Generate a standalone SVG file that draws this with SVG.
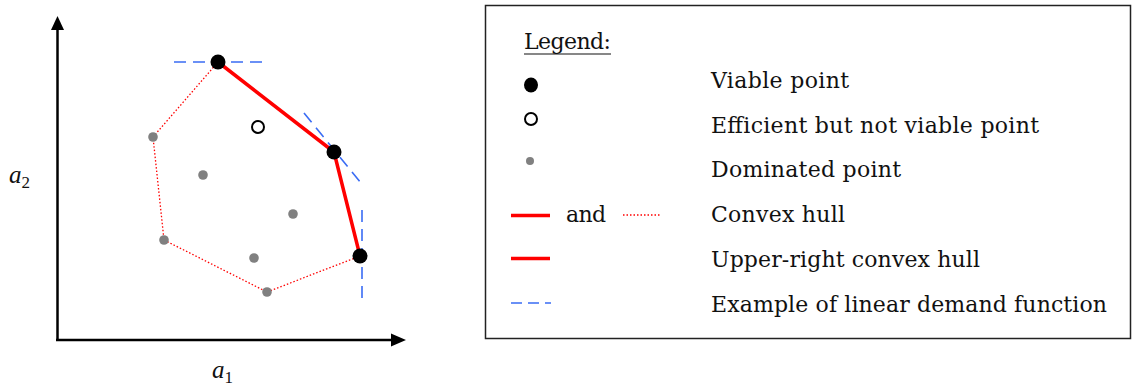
<svg xmlns="http://www.w3.org/2000/svg" width="1135" height="391" viewBox="0 0 1135 391">
<style>
.t{font-family:"DejaVu Serif","Liberation Serif",serif;font-size:22px;fill:#111}
.it{font-family:"Liberation Serif","DejaVu Serif",serif;font-style:italic;font-size:25px;fill:#111}
.sub{font-family:"Liberation Serif","DejaVu Serif",serif;font-style:normal;font-size:17px}
.axis{stroke:#000;stroke-width:2.5;fill:none}
.hull{stroke:#ff0000;stroke-width:3.5;fill:none;stroke-linejoin:round}
.dot{stroke:#ff0000;stroke-width:1.3;fill:none;stroke-dasharray:1.5 2}
.dem{stroke:#3a6cf4;stroke-width:1.6;fill:none;stroke-dasharray:12 7}
.viable{fill:#000}
.eff{fill:#fff;stroke:#000;stroke-width:2}
.dom{fill:#808080}
</style>
<g id="axes">
<path class="axis" d="M57.5,341 L57.5,26"/>
<path d="M51,30 L57.5,16 L64,30 z" fill="#000"/>
<path class="axis" d="M56,340 L395,340"/>
<path d="M391,333.5 L406,340 L391,346.5 z" fill="#000"/>
<text class="it" x="9" y="183">a<tspan class="sub" dy="5">2</tspan></text>
<text class="it" x="212" y="378">a<tspan class="sub" dy="5">1</tspan></text>
</g>
<g id="connectors">
<path class="dot" d="M218,62 L153,137 L164,240 L267,292 L360,256"/>
<path class="hull" d="M218,62 L334,152 L360,256"/>
<path class="dem" d="M174,62 L266,62"/>
<path class="dem" d="M304,113 L361,183"/>
<path class="dem" d="M362,210 L362,300"/>
</g>
<g id="points">
<circle id="p-v1" class="viable" cx="218" cy="62" r="7.5"/>
<circle id="p-v2" class="viable" cx="334" cy="152" r="7.5"/>
<circle id="p-v3" class="viable" cx="360" cy="256" r="7.5"/>
<circle id="p-e1" class="eff" cx="258" cy="127" r="6"/>
<circle id="p-d1" class="dom" cx="153" cy="137" r="4.8"/>
<circle id="p-d2" class="dom" cx="203" cy="175" r="4.8"/>
<circle id="p-d3" class="dom" cx="293" cy="214" r="4.8"/>
<circle id="p-d4" class="dom" cx="164" cy="240" r="4.8"/>
<circle id="p-d5" class="dom" cx="254" cy="258" r="4.8"/>
<circle id="p-d6" class="dom" cx="267" cy="292" r="4.8"/>
</g>
<g id="legend">
<rect x="485.5" y="5.5" width="645" height="333" fill="#fff" stroke="#222" stroke-width="1.5"/>
<text class="t" x="524" y="49" textLength="87">Legend:</text>
<line x1="524" y1="54" x2="611" y2="54" stroke="#111" stroke-width="1.2"/>
<ellipse cx="531" cy="85" rx="7" ry="7.5" class="viable"/>
<text class="t" x="711" y="88" textLength="138">Viable point</text>
<circle cx="531" cy="119" r="6" class="eff"/>
<text class="t" x="711" y="133" textLength="328">Efficient but not viable point</text>
<circle cx="530" cy="161" r="4" class="dom"/>
<text class="t" x="711" y="177" textLength="190">Dominated point</text>
<line x1="511" y1="215.5" x2="550" y2="215.5" class="hull"/>
<text class="t" x="566" y="222" textLength="40">and</text>
<line x1="623" y1="215" x2="660" y2="215" class="dot"/>
<text class="t" x="711" y="222" textLength="134">Convex hull</text>
<line x1="511" y1="258.5" x2="550" y2="258.5" class="hull"/>
<text class="t" x="711" y="267" textLength="269">Upper-right convex hull</text>
<line x1="511" y1="303" x2="551" y2="303" stroke="#3a6cf4" stroke-width="1.6" stroke-dasharray="11 6"/>
<text class="t" x="711" y="312" textLength="396">Example of linear demand function</text>
</g>
</svg>
